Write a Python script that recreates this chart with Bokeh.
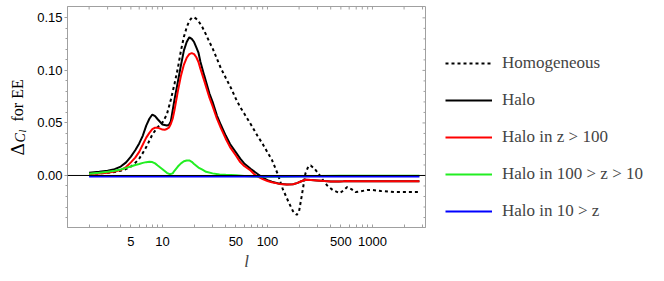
from math import pi
from bokeh.plotting import figure
from bokeh.layouts import row
from bokeh.models import (FixedTicker, Span, Legend, LegendItem, Label, NumeralTickFormatter)
from bokeh.embed import file_html
from bokeh.resources import INLINE

# ---------------- data ----------------
hom_l = [2, 2.5, 3, 3.5, 4, 4.5, 5, 5.5, 6, 6.5,
         7, 7.5, 8, 9, 10, 11, 12, 13, 14, 15,
         16, 17, 18, 19, 20, 21, 22, 24, 26, 28,
         30, 33, 36, 40, 45, 50, 55, 60, 70, 80,
         90, 100, 110, 125, 140, 160, 175, 190, 200, 214,
         230, 245, 258, 280, 305, 330, 370, 420, 490, 540,
         575, 630, 690, 780, 890, 1000, 1200, 1600, 2000, 2800]
hom_v = [0.0016, 0.0020, 0.0026, 0.0033, 0.0045, 0.0062, 0.0085, 0.012, 0.016, 0.0215,
         0.027, 0.033, 0.039, 0.046, 0.0505, 0.058, 0.072, 0.087, 0.102, 0.119,
         0.132, 0.141, 0.147, 0.1500, 0.1505, 0.149, 0.147, 0.141, 0.134, 0.127,
         0.121, 0.111, 0.102, 0.093, 0.083, 0.073, 0.065, 0.059, 0.048, 0.038,
         0.030, 0.022, 0.015, 0.0016, -0.013, -0.026, -0.034, -0.0375, -0.034, -0.017,
         0.002, 0.0085, 0.0095, 0.0065, 0.002, -0.003, -0.0095, -0.014, -0.0168, -0.0135,
         -0.011, -0.013, -0.0158, -0.015, -0.0138, -0.0138, -0.0148, -0.0158, -0.0158, -0.0158]

halo_l = [2, 2.5, 3, 3.5, 4, 4.5, 5, 5.5, 6, 6.5,
          7, 7.5, 8, 8.5, 9, 10, 11, 11.5, 12, 12.5,
          13, 14, 15, 16, 17, 18, 19, 20, 21, 22,
          23, 25, 28, 30, 33, 36, 40, 44, 50, 55,
          60, 69, 80, 90, 100, 110, 130, 153, 175, 191,
          210, 229, 260, 296, 350, 400, 480, 530, 580, 650,
          800, 1000, 1500, 2000, 2800]
halo_v = [0.0026, 0.0035, 0.0045, 0.0060, 0.0085, 0.0125, 0.018, 0.024, 0.0305, 0.038,
          0.0475, 0.054, 0.058, 0.0565, 0.0535, 0.0485, 0.0475, 0.048, 0.0515, 0.062,
          0.072, 0.089, 0.105, 0.119, 0.127, 0.1315, 0.130, 0.127, 0.122, 0.117,
          0.108, 0.095, 0.078, 0.070, 0.057, 0.048, 0.038, 0.030, 0.022, 0.016,
          0.0115, 0.0063, 0.0016, -0.002, -0.0045, -0.006, -0.0078, -0.0085, -0.0083, -0.0073,
          -0.0055, -0.0041, -0.0043, -0.0047, -0.0053, -0.0057, -0.0058, -0.0055, -0.0052, -0.0055,
          -0.0055, -0.0055, -0.0054, -0.0054, -0.0054]

z100_l = [2, 2.5, 3, 3.5, 4, 4.5, 5, 5.5, 6, 6.5,
          7, 7.5, 8, 8.5, 9, 10, 10.5, 11, 11.5, 12,
          12.5, 13, 14, 15, 16, 17, 18, 19, 20, 21,
          22, 23, 25, 28, 30, 33, 36, 40, 44, 50,
          55, 60, 69, 77, 90, 100, 110, 130, 153, 175,
          191, 210, 229, 260, 296, 350, 400, 480, 530, 580,
          650, 800, 1000, 1500, 2000, 2800]
z100_v = [0.0015, 0.0020, 0.0027, 0.0037, 0.0052, 0.008, 0.0125, 0.017, 0.0225, 0.0295,
          0.036, 0.0405, 0.044, 0.0455, 0.0455, 0.0437, 0.0435, 0.0442, 0.0455, 0.049,
          0.054, 0.062, 0.080, 0.095, 0.1055, 0.112, 0.1155, 0.1165, 0.1155, 0.1125,
          0.108, 0.1014, 0.090, 0.074, 0.066, 0.054, 0.045, 0.035, 0.027, 0.019,
          0.0127, 0.009, 0.0048, 0.0, -0.0035, -0.0052, -0.0065, -0.008, -0.0086, -0.0083,
          -0.0073, -0.0055, -0.0041, -0.0043, -0.0047, -0.0053, -0.0057, -0.0058, -0.0055, -0.0052,
          -0.0055, -0.0055, -0.0055, -0.0054, -0.0054, -0.0054]

z10_l = [2, 2.5, 3, 3.5, 4, 4.5, 5, 5.5, 6, 6.5,
         7, 7.5, 8, 8.5, 9, 10, 11, 11.7, 12.5, 13,
         14, 15, 16, 17, 18, 19, 20, 22, 24, 26,
         30, 35, 40, 50, 60, 80, 100, 150, 200, 300,
         500, 1000, 2800]
z10_v = [0.0016, 0.0025, 0.0035, 0.0045, 0.0057, 0.0072, 0.0086, 0.010, 0.011, 0.012,
         0.0127, 0.013, 0.0128, 0.0115, 0.0095, 0.006, 0.0025, 0.0012, 0.002, 0.0045,
         0.0085, 0.0115, 0.0135, 0.0143, 0.0143, 0.013, 0.011, 0.0075, 0.0055, 0.0035,
         0.002, 0.001, 0.0006, 0.0002, -0.0005, -0.001, -0.0012, -0.001, -0.0008, -0.0005,
         -0.0003, -0.0002, -0.0002]

zlow_l = [2, 10, 100, 1000, 2800]
zlow_v = [-0.001, -0.001, -0.001, -0.001, -0.001]

series_labels = ["Homogeneous", "Halo", "Halo in z > 100",
                 "Halo in 100 > z > 10", "Halo in 10 > z"]
series_colors = ["black", "black", "#ff0000", "#22ee22", "#0000ff"]
series_dash = ["3 3", "solid", "solid", "solid", "solid"]

x_major_ticks = [5, 10, 50, 100, 500, 1000]
x_minor_ticks = [2, 3, 4, 6, 7, 8, 9, 20, 30, 40, 60, 70, 80, 90,
                 200, 300, 400, 600, 700, 800, 900, 2000, 3000]
y_major_ticks = [0.0, 0.05, 0.10, 0.15]
y_minor_ticks = [-0.04, -0.03, -0.02, -0.01, 0.01, 0.02, 0.03, 0.04, 0.06, 0.07,
                 0.08, 0.09, 0.11, 0.12, 0.13, 0.14]

X0, X1 = 1.245, 3200
Y0, Y1 = -0.0495, 0.1608

GRAY = "#a0a0a0"
H = 280
series = [(hom_l, hom_v), (halo_l, halo_v), (z100_l, z100_v), (z10_l, z10_v), (zlow_l, zlow_v)]

# ---------------- y-axis title panel (frame aligned with the main plot's frame) ----------------
p_lab = figure(width=32, height=H, output_backend="svg", toolbar_location=None,
               x_axis_location=None, y_axis_location=None, min_border=0,
               x_range=(0, 1), y_range=(0, 1), outline_line_color=None)
p_lab.grid.visible = False
common = dict(x_units="screen", y_units="screen", angle=pi / 2,
              text_align="left", text_baseline="alphabetic", text_color="black",
              text_font="Liberation Serif")
p_lab.add_layout(Label(x=17, y=72, text="Δ", text_font_size="19px", **common))
p_lab.add_layout(Label(x=20, y=85, text="C", text_font_size="14px", text_font_style="italic", **common))
p_lab.add_layout(Label(x=22, y=95, text="l", text_font_size="10px", text_font_style="italic", **common))
p_lab.add_layout(Label(x=17, y=106, text="for EE", text_font_size="16px", **common))

# ---------------- main plot ----------------
p = figure(width=398, height=H, x_axis_type="log",
           x_range=(X0, X1), y_range=(Y0, Y1),
           output_backend="svg", toolbar_location=None,
           min_border_left=35, min_border_right=5,
           min_border_top=6, min_border_bottom=53)
p.grid.visible = False
p.outline_line_color = GRAY
p.outline_line_width = 1

xa = p.xaxis[0]
xa.ticker = FixedTicker(ticks=x_major_ticks, minor_ticks=x_minor_ticks)
xa.formatter = NumeralTickFormatter(format="0")
xa.major_tick_in = 3
xa.major_tick_out = 0
xa.minor_tick_in = 3
xa.minor_tick_out = 0
xa.axis_line_color = GRAY
xa.major_tick_line_color = GRAY
xa.minor_tick_line_color = GRAY
xa.major_label_text_font = "Liberation Sans"
xa.major_label_text_font_size = "13px"
xa.major_label_text_color = "black"
xa.major_label_standoff = 9
xa.axis_label = "l"
xa.axis_label_text_font = "Liberation Serif"
xa.axis_label_text_font_style = "italic"
xa.axis_label_text_font_size = "17px"
xa.axis_label_standoff = 3

ya = p.yaxis[0]
ya.ticker = FixedTicker(ticks=y_major_ticks, minor_ticks=y_minor_ticks)
ya.formatter = NumeralTickFormatter(format="0.00")
ya.major_tick_in = 0
ya.major_tick_out = 3
ya.minor_tick_in = 0
ya.minor_tick_out = 2
ya.axis_line_color = GRAY
ya.major_tick_line_color = GRAY
ya.minor_tick_line_color = GRAY
ya.major_label_text_font = "Liberation Sans"
ya.major_label_text_font_size = "13px"
ya.major_label_text_color = "black"
ya.major_label_standoff = 2

# mirrored inward ticks on the top and right frame edges (outer half of each dash is clipped)
top_ticks = x_major_ticks + x_minor_ticks
p.scatter(top_ticks, [Y1] * len(top_ticks), marker="dash", angle=pi / 2, size=6,
          line_color=GRAY, line_width=1)
p.scatter([X1] * len(y_major_ticks), y_major_ticks, marker="dash", size=6,
          line_color=GRAY, line_width=1)
p.scatter([X1] * len(y_minor_ticks), y_minor_ticks, marker="dash", size=4,
          line_color=GRAY, line_width=1)

for (xs, ys), c, d in zip(series, series_colors, series_dash):
    p.line(xs, ys, line_color=c, line_width=2, line_dash=d)

p.add_layout(Span(location=0, dimension="width", line_color="black", line_width=1))

# ---------------- legend panel (frame aligned with the main plot's frame) ----------------
# the proxy lines carry the same series, but this panel's x range (0..1) lies below every l,
# so only their legend swatches are drawn
p_leg = figure(width=232, height=H, output_backend="svg", toolbar_location=None,
               x_axis_location=None, y_axis_location=None, min_border=0,
               x_range=(0, 1), y_range=(0, 1), outline_line_color=None)
p_leg.grid.visible = False
items = []
for (xs, ys), lab, c, d in zip(series, series_labels, series_colors, series_dash):
    r = p_leg.line(xs, ys, line_color=c, line_width=2, line_dash=d)
    items.append(LegendItem(label=lab, renderers=[r]))
legend = Legend(items=items, location=(15, 6), glyph_width=47, glyph_height=20,
                label_height=20, spacing=17, padding=0, margin=0, label_standoff=10,
                border_line_color=None, background_fill_alpha=0,
                label_text_font="Liberation Serif", label_text_font_size="17px")
p_leg.add_layout(legend)

open("out.html", "w").write(file_html(row(p_lab, p, p_leg), INLINE))
